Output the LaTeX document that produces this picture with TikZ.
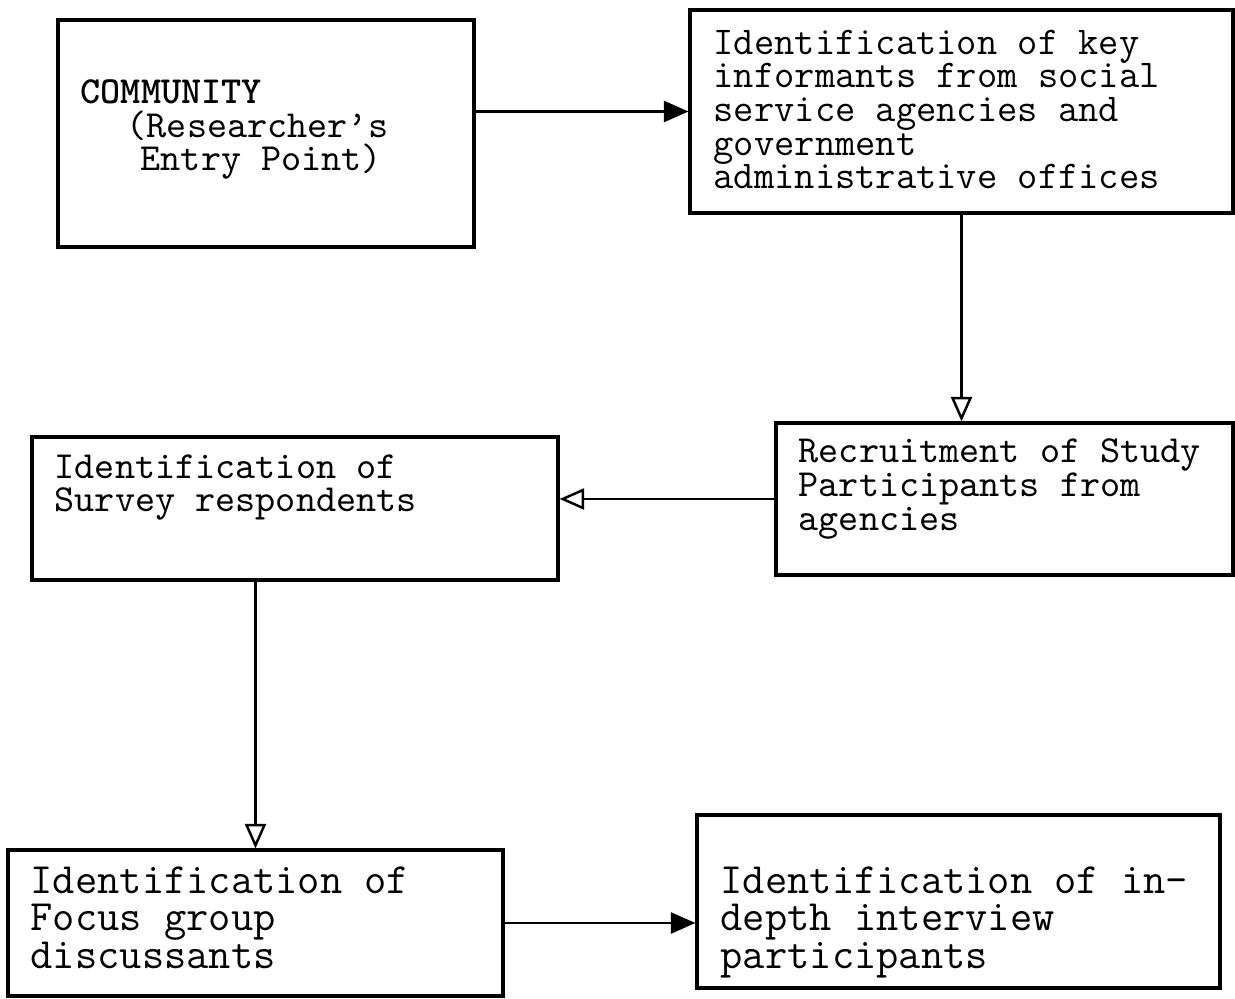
\documentclass[tikz,border=0pt]{standalone}
\usetikzlibrary{arrows.meta,positioning}

\begin{document}
\begin{tikzpicture}[
  >=Stealth,
  box/.style={draw=black, line width=0.9pt, inner sep=0pt},
  txt/.style={font=\ttfamily\fontsize{10.9}{9.6}\selectfont, align=left, inner sep=0pt, anchor=base west},
  bigtxt/.style={txt, font=\ttfamily\fontsize{12.3}{10.6}\selectfont},
  arr/.style={-{Triangle[length=7pt,width=6pt]}, line width=0.7pt},
  oarr/.style={-{Triangle[open,length=7pt,width=6pt]}, line width=0.7pt},
]

\useasboundingbox (0,0) rectangle (12.35,9.98);

% boxes
\node[box, minimum width=4.16cm, minimum height=2.27cm] (community) at (2.66,8.645) {};
\node[box, minimum width=5.43cm, minimum height=2.03cm] (key) at (9.615,8.865) {};
\node[box, minimum width=4.57cm, minimum height=1.52cm] (recruit) at (10.045,4.99) {};
\node[box, minimum width=5.26cm, minimum height=1.43cm] (survey) at (2.95,4.895) {};
\node[box, minimum width=4.95cm, minimum height=1.46cm] (focus) at (2.555,0.75) {};
\node[box, minimum width=5.23cm, minimum height=1.73cm] (indepth) at (9.585,0.965) {};

% texts (anchored on the last line)
\node[txt] (communitytxt) at (0.80,8.27) {\textbf{COMMUNITY}\\\hspace*{0.46cm}(Researcher’s\\\hspace*{0.60cm}Entry Point)};
\node[txt, font=\ttfamily\fontsize{11.2}{9.6}\selectfont] (keytxt) at (7.13,8.09) {Identification of key\\informants from social\\service agencies and\\government\\administrative offices};
\node[txt] (recruittxt) at (7.98,4.68) {Recruitment of Study\\Participants from\\agencies};
\node[txt] (surveytxt) at (0.54,4.86) {Identification of\\Survey respondents};
\node[bigtxt] (focustxt) at (0.30,0.30) {Identification of\\Focus group\\discussants};
\node[bigtxt] (indepthtxt) at (7.20,0.30) {Identification of in-\\depth interview\\participants};

% connectors
\draw[arr] (key.west -| community.east) -- (key.west);
\draw[oarr] (key.south) -- (key.south |- recruit.north);
\draw[oarr] (recruit.west) -- (recruit.west -| survey.east);
\draw[oarr] (focus.north |- survey.south) -- (focus.north);
\draw[arr] (focus.east) -- (focus.east -| indepth.west);

\end{tikzpicture}
\end{document}
